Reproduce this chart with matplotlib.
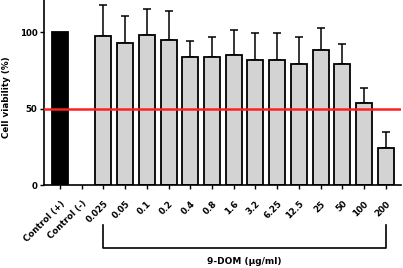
import matplotlib
matplotlib.use("Agg")
import matplotlib.pyplot as plt
import matplotlib.transforms as mtransforms

categories = ["Control (+)", "Control (-)", "0.025", "0.05", "0.1", "0.2", "0.4", "0.8",
              "1.6", "3.2", "6.25", "12.5", "25", "50", "100", "200"]
values = [100, 0, 97.6, 93.2, 98.2, 95.0, 83.7, 83.7, 85.0, 81.9, 82.1, 79.5, 88.6, 79.1, 53.8, 24.4]
err_upper = [0, 0, 20.4, 17.5, 16.8, 18.9, 10.2, 13.4, 16.7, 17.4, 17.6, 17.6, 14.2, 13.0, 9.8, 10.6]
threshold = 50
bracket_label = "9-DOM (μg/ml)"

fig = plt.figure(figsize=(4.03, 2.68), dpi=100)
ax = fig.add_axes([0.11, 0.3086, 0.885, 0.6914])

x = list(range(len(categories)))
colors = ["black"] + ["#d3d3d3"] * (len(categories) - 1)
for i in range(len(x)):
    if i == 1:
        continue
    ax.bar(x[i], values[i], width=0.74, color=colors[i], edgecolor="black", linewidth=1.3, zorder=2)
    if err_upper[i] > 0:
        ax.errorbar(x[i], values[i], yerr=[[0], [err_upper[i]]], fmt="none", ecolor="black",
                    elinewidth=1.1, capsize=3.0, capthick=1.1, zorder=1)

ax.axhline(threshold, color="#ff2020", linewidth=1.8, zorder=3)

ax.set_xlim(-0.72, 15.7)
ax.set_ylim(0, 121)
ax.set_yticks([0, 50, 100])
ax.set_xticks(x)
ax.set_xticklabels(categories, rotation=45, ha="right", rotation_mode="anchor",
                   fontsize=6.2, fontweight="bold")
for lbl in ax.get_yticklabels():
    lbl.set_fontsize(6.2)
    lbl.set_fontweight("bold")
ax.tick_params(axis="both", direction="out", length=3, width=1.0, pad=2)
ax.tick_params(axis="x", pad=7)
ax.spines["top"].set_visible(False)
ax.spines["right"].set_visible(False)
ax.spines["left"].set_linewidth(1.2)
ax.spines["bottom"].set_linewidth(1.2)
ax.set_ylabel("Cell viability (%)", fontsize=6.3, fontweight="bold")
ax.yaxis.set_label_coords(-0.094, 0.476)

trans = mtransforms.blended_transform_factory(ax.transData, ax.transAxes)
x0, x1 = 2, 15
ax.plot([x0, x0, x1, x1], [-0.214, -0.34, -0.34, -0.214], color="black", linewidth=1.2,
        transform=trans, clip_on=False)
ax.text((x0 + x1) / 2, -0.41, bracket_label, transform=trans, ha="center", va="center",
        fontsize=6.5, fontweight="bold")

fig.savefig("out.png", dpi=100)
